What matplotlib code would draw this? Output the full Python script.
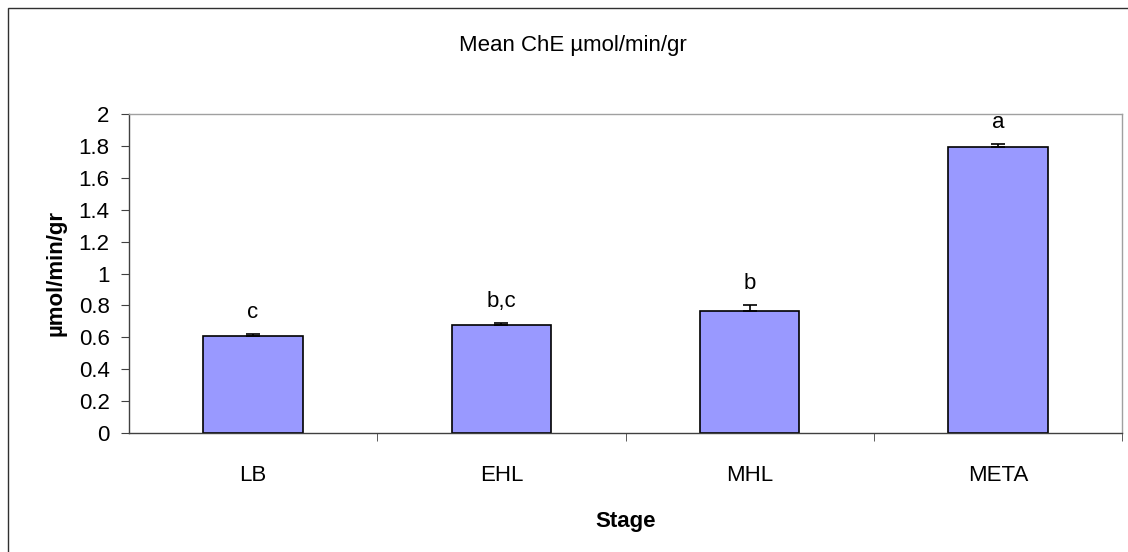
import matplotlib
matplotlib.use('Agg')
import matplotlib.pyplot as plt
import numpy as np
from matplotlib.patches import Rectangle

plt.rcParams['font.family'] = ['Liberation Sans', 'DejaVu Sans']
plt.rcParams['font.size'] = 16

# ---- data ---- #
stages = ['LB', 'EHL', 'MHL', 'META']
mean_che = [0.61, 0.68, 0.765, 1.79]
sem_che = [0.01, 0.01, 0.035, 0.02]
groups = ['c', 'b,c', 'b', 'a']
yticks = [0, 0.2, 0.4, 0.6, 0.8, 1, 1.2, 1.4, 1.6, 1.8, 2]
ytick_labels = ['0', '0.2', '0.4', '0.6', '0.8', '1', '1.2', '1.4', '1.6', '1.8', '2']

W, H = 1128, 552
fig = plt.figure(figsize=(W / 100, H / 100), dpi=100)
ax = fig.add_axes([129 / W, 1 - 433 / H, (1122 - 129) / W, (433 - 114) / H])

x = np.arange(len(stages))
ax.bar(x, mean_che, width=0.4, color='#9999FF', edgecolor='black', linewidth=1.2, zorder=2)
# plus-direction error bars only
ax.errorbar(x, mean_che, yerr=[np.zeros(len(sem_che)), sem_che], fmt='none', ecolor='black',
            elinewidth=1.2, capsize=5, capthick=1.2, zorder=3)

# significance letters above each bar
for xi, m, s, g in zip(x, mean_che, sem_che, groups):
    ax.annotate(g, (xi, m + s), xytext=(0, 8), textcoords='offset points',
                ha='center', va='bottom')

ax.set_xlim(-0.5, 3.5)
ax.set_ylim(0, 2)
ax.set_yticks(yticks)
ax.set_yticklabels(ytick_labels)
ax.set_xticks(x)
ax.set_xticklabels(stages)
ax.set_xticks(np.arange(-0.5, 4, 1)[1:], minor=True)

ax.tick_params(axis='x', which='major', length=0, pad=23)
ax.tick_params(axis='x', which='minor', length=6, direction='out', color='#404040')
ax.tick_params(axis='y', length=6, direction='out', color='#404040', pad=8)

for side in ['left', 'bottom']:
    ax.spines[side].set_color('#404040')
    ax.spines[side].set_linewidth(1.0)
for side in ['top', 'right']:
    ax.spines[side].set_color('#a0a0a0')
    ax.spines[side].set_linewidth(1.0)

ax.set_ylabel('µmol/min/gr', fontweight='bold', labelpad=9)
ax.set_xlabel('Stage', fontweight='bold', labelpad=18)

fig.text(573 / W, 1 - 46 / H, 'Mean ChE µmol/min/gr', ha='center', va='center')

# chart frame
fig.patches.append(Rectangle((8 / W, -0.5), 2, 0.5 + 1 - 8 / H, transform=fig.transFigure,
                             fill=False, edgecolor='#303030', linewidth=1.0))

fig.savefig('out.png', dpi=100)
